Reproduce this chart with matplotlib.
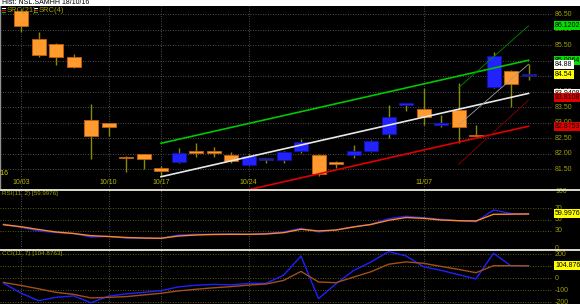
import numpy as np
import matplotlib.pyplot as plt
from matplotlib.transforms import blended_transform_factory
from matplotlib.patches import Rectangle

plt.rcParams['font.family'] = ['Liberation Sans', 'DejaVu Sans']

W, H = 580, 304

# bar index -> date label
date_idx = [0, 5, 8, 13, 23]
date_labels = ['10/03', '10/10', '10/17', '10/24', '11/07']

opens  = [86.60, 85.69, 85.52, 85.12, 83.08, 82.98, 81.90, 81.97, 81.52, 81.73,
          82.08, 82.09, 81.94, 81.63, 81.83, 81.78, 82.09, 81.94, 81.74, 81.95,
          82.08, 82.62, 83.56, 83.44, 82.93, 83.40, 82.59, 84.15, 84.66, 84.54]
closes = [86.11, 85.18, 85.10, 84.78, 82.57, 82.85, 81.84, 81.81, 81.42, 82.03,
          82.02, 82.03, 81.77, 81.92, 81.83, 82.06, 82.38, 81.33, 81.65, 82.08,
          82.40, 83.19, 83.61, 83.19, 82.97, 82.86, 82.55, 85.15, 84.25, 84.54]
highs  = [86.65, 85.92, 85.55, 85.20, 83.60, 82.99, 81.92, 81.97, 81.60, 82.17,
          82.35, 82.22, 82.05, 81.98, 81.86, 82.09, 82.46, 82.00, 81.76, 82.27,
          82.42, 83.56, 83.63, 84.12, 83.24, 84.26, 82.92, 85.28, 84.68, 84.88]
lows   = [85.92, 85.11, 84.85, 84.76, 81.83, 82.56, 81.40, 81.50, 81.27, 81.68,
          81.90, 81.88, 81.68, 81.62, 81.70, 81.68, 82.03, 81.26, 81.52, 81.86,
          82.06, 82.51, 83.36, 82.92, 82.86, 82.33, 82.55, 84.12, 83.49, 84.38]

# regression channel (start bar, end bar) and values
chan_x = [8, 29]
chan_mid = [81.25, 83.94]
chan_up = [82.33, 85.01]
chan_lo = [80.19, 82.88]
short_x = [25, 29]
short_mid = [82.92, 84.88]
short_up = [84.12, 86.12]
short_lo = [81.65, 83.72]

# indicators start one bar before the first visible candle
ind_x = list(range(-1, 30))
rsi = [42, 36.5, 30, 27.3, 25.6, 19.4, 20.3, 17.6, 17.1, 17.1, 22.9, 24.1, 24.3, 24.7,
       24.1, 25.6, 28.2, 34.7, 28.2, 31.7, 37.5, 41.8, 51.6, 55.9, 53.4, 50.6, 48.1,
       46.3, 67.0, 60.8, 60.0]
rsi_sig = [41, 37.5, 32.6, 28.2, 25.6, 21.7, 20.3, 18.5, 17.6, 17.1, 21.1, 22.9, 23.8,
           24.1, 24.1, 24.7, 27.0, 33.0, 30.0, 31.7, 37.0, 41.4, 48.8, 53.7, 52.3, 49.3,
           48.1, 47.6, 59.4, 59.6, 60.0]
cci = [-40, -125, -188, -160, -148, -205, -150, -131, -118, -104, -72, -58, -51, -55,
       -43, -42, 25, 187, -171, -46, 65, 137, 224, 188, 97, 67, 30, -5, 210, 105, 105]
cci_sig = [-35, -60, -88, -118, -135, -165, -160, -154, -140, -126, -106, -92, -80, -70,
           -57, -48, -18, 58, -31, -37, 10, 55, 118, 138, 126, 100, 75, 47, 106, 106, 105]

price_ticks = [86.5, 86.0, 85.5, 85.0, 84.5, 84.0, 83.5, 83.0, 82.5, 82.0, 81.5]
rsi_ticks = [100, 70, 50, 30, 0]
cci_ticks = [200, 100, 0, -100, -200]

# value boxes on the price scale: value, text, colour
price_boxes = [(86.1202, '86.1202', '#00e000'), (85.0064, '85.0064', '#00e000'),
               (84.88, '84.88', '#ffffff'), (84.54, '84.54', '#ffff00'),
               (83.9408, '83.9408', '#ffffff'), (83.8108, '83.8108', '#e00000'),
               (82.8753, '82.8753', '#e00000')]

olive = '#a0a000'
grid_gray = '#6a6a6a'
grid_olive = '#7a7a00'
dots = (0, (1, 2))

fig = plt.figure(figsize=(W / 100, H / 100), dpi=100, facecolor='black')


def panel(top, bottom, ylim):
    ax = fig.add_axes([0, 1 - bottom / H, 553 / W, (bottom - top) / H])
    ax.set_facecolor('black')
    for s in ax.spines.values():
        s.set_visible(False)
    ax.set_xticks([])
    ax.set_yticks([])
    ax.set_xlim(-1.2, 30.4)
    ax.set_ylim(*ylim)
    for d in date_idx:
        ax.axvline(d, color=grid_gray, lw=0.6, ls=dots, zorder=0)
    return ax


def scale_labels(ax, ticks, fmt):
    tr = blended_transform_factory(fig.transFigure, ax.transData)
    for t in ticks:
        ax.text(555 / W, t, fmt.format(t), transform=tr, fontsize=5, color=olive,
                va='center', ha='left', clip_on=False)
    return tr


# ---- main price panel
ax = panel(6, 189, (80.855, 86.76))
for t in price_ticks:
    ax.axhline(t, color=grid_gray, lw=0.6, ls=dots, zorder=0)
ax.axvline(-1.2, color='#909090', lw=1)

x = np.arange(len(opens))
o = np.array(opens)
c = np.array(closes)
ax.vlines(x, lows, highs, color='#8a8a00', lw=1, zorder=2)
for i in x:
    if o[i] == c[i]:
        fc, ec = '#1c1c90', '#1c1c90'
    elif c[i] > o[i]:
        fc, ec = '#2222ff', '#1010b0'
    else:
        fc, ec = '#ff9a2e', '#c06010'
    hgt = max(abs(c[i] - o[i]), 0.06)
    ax.bar(i, hgt, bottom=min(o[i], c[i]) - (0.03 if o[i] == c[i] else 0), width=0.8,
           color=fc, edgecolor=ec, lw=0.6, zorder=3)

ax.plot(chan_x, chan_up, color='#00c800', lw=1.2, zorder=4)
ax.plot(chan_x, chan_mid, color='#e8e8e8', lw=1.2, zorder=4)
ax.plot(chan_x, chan_lo, color='#e00000', lw=1.2, zorder=4)
ax.plot(short_x, short_up, color='#008a00', lw=0.6, zorder=4)
ax.plot(short_x, short_mid, color='#a0a0a0', lw=0.6, zorder=4)
ax.plot(short_x, short_lo, color='#8a0000', lw=0.6, zorder=4)

tr = scale_labels(ax, price_ticks, '{:.2f}')
for v, txt, col in price_boxes:
    ax.text(555 / W, v, txt, transform=tr, fontsize=5, color='black', va='center',
            ha='left', clip_on=False,
            bbox=dict(boxstyle='square,pad=0.15', fc=col, ec='none'))

trd = blended_transform_factory(ax.transData, fig.transFigure)
for d, lab in zip(date_idx, date_labels):
    ax.text(d, 1 - 183 / H, lab, transform=trd, fontsize=5, color='#b8b800',
            ha='center', va='center')
fig.text(0, 1 - 174 / H, "'16", fontsize=5, color='#d0d000', va='center')

# legend
for xi, lab in [(2, 'SRC(21)'), (34, 'SRC(4)')]:
    for k, col in enumerate(['#ffffff', '#e00000', '#00c000']):
        fig.patches.append(Rectangle((xi / W, 1 - (9 + 2 * k) / H), 4 / W, 1 / H,
                                     transform=fig.transFigure, fc=col, ec='none'))
    fig.text((xi + 5) / W, 1 - 11 / H, lab, fontsize=5.5, color=olive, va='center')

# ---- RSI panel
ax2 = panel(190, 249, (-1.76, 102.2))
for t in [70, 50, 30]:
    ax2.axhline(t, color=grid_olive, lw=0.6, ls=dots, zorder=0)
ax2.plot(ind_x, rsi, color='#2020ff', lw=1)
ax2.plot(ind_x, rsi_sig, color='#ff8c1a', lw=1)
tr2 = scale_labels(ax2, rsi_ticks, '{}')
ax2.text(555 / W, rsi[-1], '59.9976', transform=tr2, fontsize=5, color='black',
         va='center', ha='left', bbox=dict(boxstyle='square,pad=0.15', fc='#ffff00', ec='none'))
ax2.text(2 / W, 1 - 194 / H, 'RSI(11, 2) [59.9976]', transform=fig.transFigure,
         fontsize=4.5, color=olive, va='center')

# ---- CCI panel
ax3 = panel(250, 304, (-216, 237.8))
for t in cci_ticks:
    ax3.axhline(t, color=grid_olive, lw=0.6, ls=dots, zorder=0)
ax3.plot(ind_x, cci, color='#2020ff', lw=1)
ax3.plot(ind_x, cci_sig, color='#a0501a', lw=1)
tr3 = scale_labels(ax3, cci_ticks, '{}')
ax3.text(555 / W, cci[-1], '104.8763', transform=tr3, fontsize=5, color='black',
         va='center', ha='left', bbox=dict(boxstyle='square,pad=0.15', fc='#ffff00', ec='none'))
ax3.text(2 / W, 1 - 253 / H, 'CCI(11, 7) [104.8763]', transform=fig.transFigure,
         fontsize=4.5, color=olive, va='center')

# separators and title strip
for yy in [189.5, 249.5]:
    fig.add_artist(plt.Line2D([0, 1], [1 - yy / H] * 2, transform=fig.transFigure,
                              color='#fffff0', lw=1.2))
fig.patches.append(Rectangle((0, 1 - 6 / H), 1, 6 / H, transform=fig.transFigure,
                             fc='white', ec='none'))
fig.text(2 / W, 1 - 2 / H, 'Hist: NSL.SAMHH 18/10/16', fontsize=5, color='black',
         va='center')

fig.savefig('out.png', dpi=100, facecolor='black')
